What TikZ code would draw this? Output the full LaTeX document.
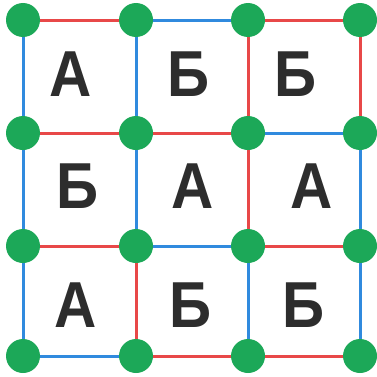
\documentclass[tikz,border=0pt]{standalone}
\usepackage{fontspec}
\setsansfont{Liberation Sans}
\usepackage{tikz}
\definecolor{dotgreen}{RGB}{28,168,88}
\definecolor{ered}{RGB}{232,72,72}
\definecolor{eblue}{RGB}{48,138,222}
\definecolor{ink}{RGB}{45,45,45}
\tikzset{
  pt/.style={circle,fill=dotgreen,minimum size=34pt,inner sep=0pt},
  er/.style={draw=ered,line width=3pt},
  eb/.style={draw=eblue,line width=3pt},
  lt/.style={font=\sffamily\bfseries\fontsize{65}{65}\selectfont,text=ink,inner sep=0pt},
}
\begin{document}
\begin{tikzpicture}[x=1pt,y=1pt]
\useasboundingbox (0,0) rectangle (377,376);
% grid points
\coordinate (q00) at (23,356);
\coordinate (q10) at (136,356);
\coordinate (q20) at (248,356);
\coordinate (q30) at (360,356);
\coordinate (q01) at (23,243);
\coordinate (q11) at (136,243);
\coordinate (q21) at (248,243);
\coordinate (q31) at (360,243);
\coordinate (q02) at (23,130);
\coordinate (q12) at (136,130);
\coordinate (q22) at (248,130);
\coordinate (q32) at (360,130);
\coordinate (q03) at (23,20);
\coordinate (q13) at (136,20);
\coordinate (q23) at (248,20);
\coordinate (q33) at (360,20);
% horizontal edges
\draw[er] (q00) -- (q10);
\draw[eb] (q10) -- (q20);
\draw[er] (q20) -- (q30);
\draw[er] (q01) -- (q11);
\draw[er] (q11) -- (q21);
\draw[eb] (q21) -- (q31);
\draw[er] (q02) -- (q12);
\draw[eb] (q12) -- (q22);
\draw[er] (q22) -- (q32);
\draw[eb] (q03) -- (q13);
\draw[er] (q13) -- (q23);
\draw[er] (q23) -- (q33);
% vertical edges
\draw[eb] (q00) -- (q01);
\draw[eb] (q10) -- (q11);
\draw[er] (q20) -- (q21);
\draw[er] (q30) -- (q31);
\draw[eb] (q01) -- (q02);
\draw[eb] (q11) -- (q12);
\draw[er] (q21) -- (q22);
\draw[eb] (q31) -- (q32);
\draw[eb] (q02) -- (q03);
\draw[er] (q12) -- (q13);
\draw[eb] (q22) -- (q23);
\draw[eb] (q32) -- (q33);
% dots
\foreach \c in {00,10,20,30,01,11,21,31,02,12,22,32,03,13,23,33}
  \node[pt] (p\c) at (q\c) {};
% letters
\node[lt,xscale=0.9] (l00) at (71,302) {А};
\node[lt,xscale=0.9] (l10) at (189,302) {Б};
\node[lt,xscale=0.9] (l20) at (296,302) {Б};
\node[lt,xscale=0.9] (l01) at (78,190) {Б};
\node[lt,xscale=0.9] (l11) at (193,190) {А};
\node[lt,xscale=0.9] (l21) at (312,190) {А};
\node[lt,xscale=0.9] (l02) at (76,71) {А};
\node[lt,xscale=0.9] (l12) at (191,71) {Б};
\node[lt,xscale=0.9] (l22) at (304,71) {Б};
\end{tikzpicture}
\end{document}
